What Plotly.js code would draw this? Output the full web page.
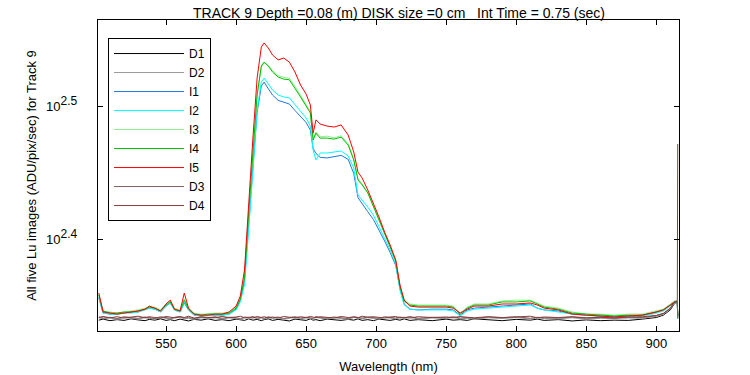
<!DOCTYPE html>
<html>
<head>
<meta charset="utf-8">
<script src="https://cdn.plot.ly/plotly-3.0.1.min.js"></script>
<style>html,body{margin:0;padding:0;background:#fff;}#chart{width:750px;height:375px;}</style>
</head>
<body>
<div id="chart"></div>
<script>
// Wavelength grid (nm)
const wavelength = [
  502, 505, 510, 515, 520, 525, 530, 535, 538, 542,
  546, 550, 553, 556, 560, 563, 566, 570, 575, 580,
  585, 590, 595, 600, 603, 606, 609, 612, 615, 618,
  620, 623, 626, 630, 634, 638, 642, 646, 650, 653,
  655, 657, 660, 665, 670, 675, 680, 684, 687, 690,
  694, 698, 702, 706, 710, 714, 717, 720, 724, 730,
  740, 750, 755, 760, 765, 770, 780, 790, 800, 810,
  815, 820, 830, 840, 850, 860, 870, 880, 890, 900,
  905, 910, 913, 915, 915.3
];

// Dark images (ADU/pix/sec)
const D1 = [
  218.4, 218.8, 218.2, 218.6, 218.3, 218.9, 218.5, 218.2, 218.7, 218.4,
  218.9, 218.3, 218.6, 218.2, 218.8, 218.5, 218.1, 218.7, 218.4, 218.9,
  218.3, 218.6, 218.2, 218.8, 218.5, 218.3, 218.9, 218.4, 218.7, 218.2,
  218.6, 218.9, 218.3, 218.7, 218.4, 218.1, 218.8, 218.5, 218.3, 218.9,
  218.4, 218.6, 218.2, 218.8, 218.5, 218.3, 218.7, 218.4, 218.9, 218.3,
  218.6, 218.2, 218.8, 218.5, 218.3, 218.7, 218.4, 218.9, 218.3, 218.6,
  218.2, 218.8, 218.4, 218.6, 218.3, 218.9, 218.5, 218.2, 218.7, 218.4,
  218.8, 218.3, 218.6, 218.1, 218.5, 218.2, 218.4, 218.3, 218.8, 219.4,
  220.3, 222.3, 224.8, 225.2, 219.0
];
const D2 = [
  219.3, 218.9, 219.2, 218.7, 219.4, 219.0, 218.8, 219.3, 219.1, 218.7,
  219.4, 219.0, 218.8, 219.2, 219.5, 218.9, 219.1, 218.7, 219.3, 219.0,
  219.4, 218.8, 219.2, 219.0, 218.7, 219.3, 219.1, 219.5, 218.9, 219.2,
  218.8, 219.4, 219.0, 219.3, 218.7, 219.1, 219.4, 218.9, 219.2, 219.0,
  218.8, 219.5, 219.1, 218.9, 219.3, 219.0, 218.7, 219.4, 219.2, 218.9,
  219.3, 219.0, 218.8, 219.4, 219.1, 218.9, 219.3, 219.0, 219.5, 218.8,
  219.2, 219.0, 219.4, 218.9, 219.1, 218.7, 219.3, 219.0, 219.4, 218.8,
  219.2, 219.0, 218.9, 219.3, 218.8, 219.1, 219.0, 219.2, 219.1, 219.8,
  220.6, 222.6, 225.0, 225.4, 219.2
];
const D3 = [
  219.6, 219.2, 219.5, 219.0, 219.7, 219.3, 219.1, 219.6, 219.4, 219.0,
  219.7, 219.3, 219.1, 219.5, 219.8, 219.2, 219.4, 219.0, 219.6, 219.3,
  219.7, 219.1, 219.5, 219.3, 219.0, 219.6, 219.4, 219.8, 219.2, 219.5,
  219.1, 219.7, 219.3, 219.6, 219.0, 219.4, 219.7, 219.2, 219.5, 219.3,
  219.1, 219.8, 219.4, 219.2, 219.6, 219.3, 219.0, 219.7, 219.5, 219.2,
  219.6, 219.3, 219.1, 219.7, 219.4, 219.2, 219.6, 219.3, 219.8, 219.1,
  219.5, 219.3, 219.7, 219.2, 219.4, 219.0, 219.6, 219.3, 219.7, 219.1,
  219.5, 219.3, 219.2, 219.6, 219.1, 219.4, 219.3, 219.5, 219.4, 220.1,
  220.9, 222.9, 225.3, 225.6, 219.5
];
const D4 = [
  219.4, 219.8, 219.3, 219.7, 219.2, 219.6, 219.9, 219.3, 219.7, 219.4,
  219.2, 219.8, 219.5, 219.3, 219.7, 219.4, 219.9, 219.2, 219.6, 219.5,
  219.3, 219.8, 219.4, 219.6, 219.9, 219.3, 219.5, 219.2, 219.8, 219.4,
  219.7, 219.3, 219.6, 219.2, 219.8, 219.5, 219.3, 219.7, 219.4, 219.8,
  219.6, 219.3, 219.7, 219.5, 219.2, 219.8, 219.4, 219.6, 219.3, 219.9,
  219.5, 219.7, 219.4, 219.2, 219.6, 219.8, 219.3, 219.5, 219.2, 219.7,
  219.4, 219.6, 219.3, 219.8, 219.5, 219.3, 219.7, 219.4, 219.6, 219.9,
  219.3, 219.6, 219.4, 219.7, 219.3, 219.5, 219.2, 219.6, 219.7, 220.2,
  221.0, 223.0, 225.5, 225.8, 296.3
];

// Illuminated images (ADU/pix/sec)
const I1 = [
  227.0, 221.1, 220.7, 220.7, 221.1, 221.5, 221.5, 222.3, 223.0, 222.6,
  221.5, 223.8, 225.0, 222.3, 221.5, 225.0, 222.3, 220.3, 220.0, 220.3,
  220.3, 220.3, 220.7, 222.6, 226.1, 234.0, 258.0, 285.5, 313.0, 327.5,
  329.8, 326.0, 322.5, 319.5, 318.5, 317.5, 314.0, 310.5, 307.5, 303.5,
  294.0, 291.5, 289.5, 289.2, 289.8, 290.5, 288.5, 281.5, 270.0, 267.0,
  263.5, 260.0, 255.5, 250.5, 245.5, 240.0, 230.5, 224.6, 222.6, 222.3,
  222.6, 222.6, 222.3, 220.3, 222.3, 223.0, 223.4, 223.8, 224.2, 224.6,
  223.0, 222.3, 221.9, 220.7, 220.3, 220.0, 219.6, 220.0, 220.3, 221.5,
  222.3, 224.2, 225.4, 225.4, 220.0
];
const I2 = [
  227.3, 221.1, 220.7, 220.7, 221.1, 221.1, 221.5, 222.3, 223.0, 222.6,
  221.5, 223.8, 225.0, 222.3, 221.5, 225.4, 222.3, 220.3, 220.0, 220.3,
  220.3, 220.3, 220.7, 222.3, 225.4, 232.1, 255.3, 283.2, 314.2, 329.8,
  332.1, 328.7, 325.3, 322.5, 321.4, 320.9, 317.0, 313.1, 309.9, 305.6,
  293.2, 288.2, 291.7, 291.7, 292.2, 292.7, 290.2, 284.2, 271.2, 268.9,
  265.6, 262.0, 257.0, 251.8, 246.6, 240.7, 230.0, 224.2, 222.6, 222.3,
  222.3, 222.3, 221.9, 220.0, 221.9, 222.6, 223.0, 223.4, 223.8, 224.2,
  223.0, 222.3, 221.5, 220.7, 220.3, 220.0, 219.6, 220.0, 220.0, 221.1,
  221.9, 223.8, 225.0, 225.0, 220.0
];
const I3 = [
  228.3, 221.9, 221.5, 221.1, 221.5, 221.9, 222.3, 223.0, 223.4, 223.4,
  222.3, 224.6, 225.8, 223.0, 222.3, 226.5, 223.0, 221.1, 220.7, 220.7,
  221.1, 221.1, 221.5, 223.4, 227.0, 235.5, 264.0, 293.5, 322.0, 338.5,
  341.0, 339.5, 336.5, 333.5, 332.5, 332.0, 327.5, 322.5, 317.5, 313.5,
  299.0, 302.5, 300.0, 300.3, 299.5, 300.5, 296.5, 288.5, 279.0, 276.5,
  272.5, 266.5, 260.0, 253.8, 248.2, 242.0, 231.5, 226.1, 224.6, 224.2,
  224.2, 224.2, 223.8, 221.1, 223.4, 224.6, 224.6, 225.8, 226.1, 226.1,
  225.0, 223.8, 223.0, 221.5, 220.7, 220.7, 220.3, 220.7, 220.7, 221.9,
  222.6, 224.6, 225.8, 225.8, 220.0
];
const I4 = [
  228.1, 221.9, 221.1, 221.1, 221.5, 221.5, 221.9, 222.6, 223.4, 223.0,
  221.9, 224.2, 225.4, 222.6, 221.9, 226.1, 222.6, 220.7, 220.3, 220.7,
  220.7, 220.7, 221.1, 223.0, 226.5, 234.9, 263.3, 293.2, 322.5, 339.1,
  341.4, 339.1, 335.6, 332.7, 331.5, 331.1, 326.4, 321.4, 316.4, 312.6,
  298.3, 301.9, 299.3, 299.3, 298.8, 299.8, 295.7, 288.2, 278.4, 276.0,
  272.2, 266.1, 259.7, 253.5, 247.9, 241.9, 231.3, 225.7, 224.2, 223.8,
  223.8, 223.8, 223.4, 220.7, 223.0, 224.2, 224.2, 225.4, 225.4, 225.8,
  224.6, 223.4, 222.6, 221.1, 220.7, 220.3, 220.0, 220.3, 220.3, 221.5,
  222.3, 224.2, 225.4, 225.4, 220.0
];
const I5 = [
  228.9, 221.5, 221.1, 220.7, 221.1, 221.5, 221.9, 222.6, 223.8, 223.0,
  221.9, 224.6, 226.1, 222.6, 221.9, 228.9, 223.0, 220.7, 220.3, 220.3,
  220.7, 220.7, 221.5, 223.8, 227.7, 238.2, 269.3, 299.3, 332.1, 350.4,
  352.9, 349.8, 345.6, 342.7, 343.8, 341.4, 335.6, 328.1, 323.0, 317.0,
  301.9, 308.9, 306.7, 305.6, 305.1, 306.2, 300.9, 292.2, 282.2, 279.3,
  273.6, 267.5, 261.1, 254.4, 248.7, 242.3, 232.1, 226.1, 223.8, 223.4,
  223.4, 223.4, 223.0, 221.1, 222.6, 223.8, 223.8, 224.6, 224.6, 225.0,
  224.2, 223.0, 222.3, 220.7, 220.3, 220.0, 219.6, 220.0, 220.3, 221.5,
  222.3, 224.2, 225.4, 225.4, 220.0
];

const seriesNames = ['D1', 'D2', 'I1', 'I2', 'I3', 'I4', 'I5', 'D3', 'D4'];
const seriesData = [D1, D2, I1, I2, I3, I4, I5, D3, D4];
const seriesColors = ['#000000', '#999999', '#1f78dc', '#00ffff', '#90ee90', '#00c000', '#ff0000', '#7f5f5f', '#883c3c'];

const yTickVals = [Math.pow(10, 2.4), Math.pow(10, 2.5)];
const yTickText = [
  '10<sup><span style="font-size:12px">2.4</span></sup>\u00a0\u00a0',
  '10<sup><span style="font-size:12px">2.5</span></sup>\u00a0\u00a0'
];
const xTickVals = [550, 600, 650, 700, 750, 800, 850, 900];

const traces = seriesNames.map((n, i) => ({
  x: wavelength,
  y: seriesData[i],
  name: n,
  type: 'scatter',
  mode: 'lines',
  line: {color: seriesColors[i], width: 1}
}));

const font = {family: 'Liberation Sans, Arial, sans-serif', size: 13, color: '#000'};

const layout = {
  width: 750, height: 375,
  margin: {l: 98, r: 71, t: 20, b: 44},
  paper_bgcolor: '#fff', plot_bgcolor: '#fff',
  font: font,
  showlegend: true,
  title: {text: 'TRACK 9 Depth =0.08 (m) DISK size =0 cm\u00a0\u00a0\u00a0Int Time = 0.75 (sec)',
          font: {family: font.family, size: 14, color: '#000'},
          x: 0.532, xanchor: 'center', y: 0.965, yanchor: 'middle'},
  xaxis: {
    range: [501.4, 916.2], tickvals: xTickVals,
    ticks: 'inside', ticklen: 5, tickcolor: '#000',
    showline: true, linecolor: '#000', linewidth: 1, mirror: 'ticks',
    showgrid: false, zeroline: false,
    tickfont: font,
    title: {text: 'Wavelength (nm)', font: font, standoff: 12}
  },
  yaxis: {
    type: 'log', range: [2.3311, 2.5649],
    tickvals: yTickVals, ticktext: yTickText,
    ticks: 'inside', ticklen: 5, tickcolor: '#000',
    showline: true, linecolor: '#000', linewidth: 1, mirror: 'ticks',
    showgrid: false, zeroline: false,
    tickfont: font, ticklabelstandoff: 10,
    title: {text: 'All five Lu images (ADU/pix/sec) for Track 9', font: font, standoff: 6}
  },
  legend: {
    x: 0.0172, y: 0.942, xanchor: 'left', yanchor: 'top',
    bgcolor: '#fff', bordercolor: '#000', borderwidth: 1,
    font: {family: font.family, size: 12, color: '#000'}, itemwidth: 70, tracegroupgap: 0
  }
};

Plotly.newPlot('chart', traces, layout, {staticPlot: true, displayModeBar: false});
</script>
</body>
</html>
